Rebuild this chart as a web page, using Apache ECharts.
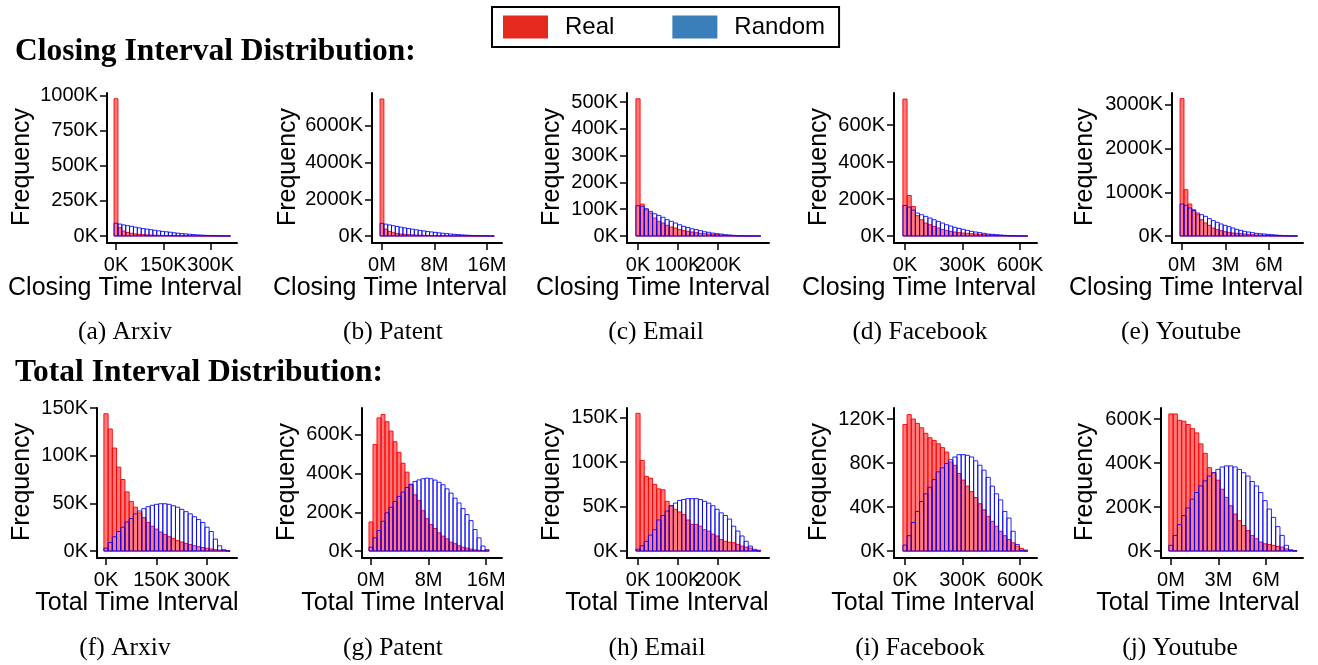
<!DOCTYPE html>
<html><head><meta charset="utf-8">
<script src="https://cdn.jsdelivr.net/npm/echarts@6/dist/echarts.min.js"></script>
<style>html,body{margin:0;padding:0;background:#fff}#c{width:1318px;height:665px}</style>
</head><body><div id="c"></div>
<script>
// ---------- DATA (counts in thousands; x in K or M units) ----------
const seriesNames = ['Real', 'Random'];
const datasetNames = ['Arxiv', 'Patent', 'Email', 'Facebook', 'Youtube'];
const captionLetters = ['a', 'b', 'c', 'd', 'e', 'f', 'g', 'h', 'i', 'j'];
const sectionTitles = ['Closing Interval Distribution:', 'Total Interval Distribution:'];
const xAxisTitles = ['Closing Time Interval', 'Total Time Interval'];
const yAxisTitle = 'Frequency';

// bin widths per panel (a..j)
const binWidths = [12.3, 0.58, 10.4, 21.7, 0.27, 12.5, 0.556, 10.4, 21.7, 0.27];
const xUnits = ['K', 'M', 'K', 'K', 'M', 'K', 'M', 'K', 'K', 'M'];

// (a) Arxiv closing
const arxivClosingReal = [980, 60, 35, 25, 19, 15, 12, 10, 8, 7, 6, 5, 4, 3.5, 3, 2.5, 2, 1.7, 1.4, 1.2, 1, 0.8, 0.6, 0.5, 0.4, 0.3, 0.2, 0.2, 0.1, 0.1];
const arxivClosingRandom = [91, 85, 79, 74, 69, 63, 58, 53, 49, 45, 41, 37, 33, 30, 27, 23, 20, 17.5, 15, 12.5, 10, 8, 6.5, 5, 4, 3, 2, 1, 0.5, 0.2];
// (b) Patent closing
const patentClosingReal = [7466, 380, 250, 180, 140, 110, 90, 75, 62, 52, 44, 37, 31, 26, 22, 18, 15, 12, 10, 8, 6, 5, 4, 3, 2, 2, 1, 1, 1, 0.5];
const patentClosingRandom = [692, 647, 603, 561, 520, 481, 443, 406, 372, 339, 307, 278, 249, 223, 198, 173, 151, 130, 111, 93, 77, 62, 49, 38, 28, 19, 12, 7, 3, 1];
// (c) Email closing
const emailClosingReal = [512, 119, 98, 86, 67, 55, 48.5, 40, 33.6, 30, 24, 20, 17.4, 15, 12.4, 10, 8.7, 7.5, 6.2, 5, 3.7, 2.5, 2.5, 1.2, 0.8, 0.5, 0.4, 0.3, 0.2, 0.1];
const emailClosingRandom = [113, 111, 102, 92, 83, 77, 70, 61, 55, 48.5, 42, 36, 32, 27, 24, 20, 16, 14, 11, 8.7, 7.5, 5, 3.7, 2.5, 1.2, 1, 0.5, 0.3, 0.2, 0.1];
// (d) Facebook closing
const facebookClosingReal = [740, 219, 160, 110, 88, 70, 61, 52, 43, 36, 30.5, 25, 21.6, 18, 16, 14.4, 12.6, 10.8, 9, 7.2, 5.4, 5, 3.6, 3, 2, 1.5, 1, 0.7, 0.4, 0.2];
const facebookClosingRandom = [165, 156, 140, 124, 115, 106, 97, 88, 79, 70, 61, 54, 47, 41, 36, 30.5, 25, 21.6, 18, 14.4, 10.8, 9, 7.2, 5.4, 3.6, 1.8, 1, 0.6, 0.3, 0.1];
// (e) Youtube closing
const youtubeClosingReal = [3143, 1060, 732, 603, 488, 374, 298, 244, 183, 145, 122, 99, 84, 69, 61, 53, 46, 38, 30, 23, 20, 15, 12, 8, 6, 4, 3, 2, 1, 0.5];
const youtubeClosingRandom = [732, 702, 641, 580, 526, 488, 450, 397, 351, 313, 275, 244, 214, 183, 153, 130, 107, 92, 76, 61, 53, 46, 38, 30, 23, 15, 8, 3, 1, 0.5];
// (f) Arxiv total
const arxivTotalReal = [144, 128, 108, 88, 75, 62, 52, 46, 40, 35, 30, 26, 23, 20, 17.5, 15, 13, 11, 9.5, 8, 6.8, 5.6, 4.6, 3.7, 2.9, 2.2, 1.5, 1, 0.5, 0.2];
const arxivTotalRandom = [3, 9, 15, 20.5, 25, 30.5, 34, 39, 42, 44.4, 46.5, 48, 49, 49.6, 49.6, 49, 47.5, 46, 43.7, 41.3, 39, 36, 33, 30, 25, 20.5, 12.5, 5.5, 1.4, 0];
// (g) Patent total
const patentTotalReal = [150, 550, 687, 704, 667, 619, 564, 509, 453, 407, 342, 290, 260, 208, 167, 137, 116, 94, 77, 63, 46, 38, 27, 20, 15, 10, 6, 4, 2, 1];
const patentTotalRandom = [20, 68, 106, 154, 197, 226, 256, 282, 304, 328, 345, 359, 367, 373, 376, 373, 366, 355, 342, 321, 299, 273, 248, 219, 188, 157, 111, 68, 26, 7];
// (h) Email total
const emailTotalReal = [155, 102, 84, 82, 75, 70, 69, 56, 51, 47, 44, 41, 35, 30, 30, 28, 24, 22.5, 19, 17, 13, 11, 10, 9.4, 7.5, 5.6, 4.5, 3.4, 2, 1];
const emailTotalRandom = [2, 6, 11, 18, 24, 35, 40, 45, 51, 54, 57, 58, 59, 59, 59, 58, 56, 54, 51, 47, 43, 40, 36, 28, 22.5, 17, 11, 5.6, 1, 0];
// (i) Facebook total
const facebookTotalReal = [115, 124, 120, 116, 112, 107, 103, 100.5, 97.5, 94, 90, 81, 78, 70.5, 64.5, 59, 54, 48.6, 43, 37.5, 31.5, 27, 22.5, 18, 14, 10.5, 7.5, 4.5, 2.4, 1];
const facebookTotalRandom = [5.4, 14, 26, 36, 45, 52, 58, 65, 72, 75.6, 79.5, 83, 85.5, 87.6, 87.6, 87, 85.5, 82, 78, 73.5, 67, 59, 52, 46.5, 36, 30, 18, 6, 0.6, 0];
// (j) Youtube total
const youtubeTotalReal = [623, 623, 594, 590, 575, 556, 537, 487, 444, 379, 356, 322, 281, 244, 206, 168, 138, 116, 93, 71, 56, 41, 33, 30, 26, 21, 18, 10, 6, 2];
const youtubeTotalRandom = [26, 71, 120, 161, 196, 236, 266, 296, 319, 341, 356, 371, 382, 387, 387, 382, 371, 356, 341, 316, 296, 266, 229, 191, 153, 111, 71, 26, 3, 0];

// tick labels
const yTicks = [
  [0, 250, 500, 750, 1000], [0, 2000, 4000, 6000], [0, 100, 200, 300, 400, 500], [0, 200, 400, 600], [0, 1000, 2000, 3000],
  [0, 50, 100, 150], [0, 200, 400, 600], [0, 50, 100, 150], [0, 40, 80, 120], [0, 200, 400, 600]
];
const xTicks = [
  [0, 150, 300], [0, 8, 16], [0, 100, 200], [0, 300, 600], [0, 3, 6],
  [0, 150, 300], [0, 8, 16], [0, 100, 200], [0, 300, 600], [0, 3, 6]
];
const realSeries = [arxivClosingReal, patentClosingReal, emailClosingReal, facebookClosingReal, youtubeClosingReal,
  arxivTotalReal, patentTotalReal, emailTotalReal, facebookTotalReal, youtubeTotalReal];
const randomSeries = [arxivClosingRandom, patentClosingRandom, emailClosingRandom, facebookClosingRandom, youtubeClosingRandom,
  arxivTotalRandom, patentTotalRandom, emailTotalRandom, facebookTotalRandom, youtubeTotalRandom];

// ---------- LAYOUT ----------
const yRanges = [[-50, 1021], [-381, 7793], [-26, 533.6], [-37.8, 773], [-160, 3272],
  [-7.3, 150], [-35.9, 738], [-7.8, 161], [-6.3, 130], [-31.6, 650]];
const xRanges = [[-28.5, 383.6], [-1.52, 18.29], [-27.5, 327.5], [-57.4, 688.7], [-0.69, 8.34],
  [-26.7, 389], [-1.25, 18.2], [-27.5, 327.5], [-57.4, 688.7], [-0.63, 8.34]];
const gridLeft = [107, 372, 627, 894, 1172, 97, 362, 627, 894, 1161];
const gridRight = [237, 502, 769, 1037, 1303, 237, 502, 769, 1037, 1303];
const rowTop = [93, 408];
const plotH = 150;
const freqX = [22, 288, 552, 819, 1085, 22, 287, 552, 819, 1085];
const freqY = [167, 482];
const titleX = [125, 390, 653, 919, 1186, 137, 403, 667, 933, 1198];
const titleY = [288, 603];
const capX = [125, 393, 656, 920, 1181, 125, 393, 657, 920, 1180];
const capY = [332, 648];
const secY = [52, 373];
// panels whose crowded middle x label is drawn on a second, label-only axis (so it is not auto-hidden)
const crowdedPanels = [2, 7];

const SANS = '"Liberation Sans", Arial, Helvetica, sans-serif';
const SERIF = '"Liberation Serif", "Times New Roman", serif';

function makeRender(fill, stroke) {
  return function (params, api) {
    const x0 = api.value(0), x1 = api.value(1), y = api.value(2);
    const a = api.coord([x0, y]);
    const b = api.coord([x1, 0]);
    return {
      type: 'rect',
      shape: { x: a[0], y: a[1], width: b[0] - a[0], height: b[1] - a[1] },
      style: { fill: fill, stroke: stroke, lineWidth: 1 }
    };
  };
}

function xLabelStyle(unit, values) {
  return { show: true, customValues: values, formatter: v => v + unit, color: '#000', fontFamily: SANS, fontSize: 20, margin: 12,
    hideOverlap: false, showMinLabel: true, showMaxLabel: true };
}

const grids = [], xAxes = [], yAxes = [], series = [], graphics = [];
for (let p = 0; p < 10; p++) {
  const row = p < 5 ? 0 : 1;
  grids.push({ left: gridLeft[p], width: gridRight[p] - gridLeft[p], top: rowTop[row], height: plotH, outerBoundsMode: 'none', containLabel: false });
  const unit = xUnits[p];
  const crowded = crowdedPanels.indexOf(p) >= 0;
  const ticks = xTicks[p];
  const mainLabels = crowded ? ticks.filter((v, i) => i !== 1) : ticks;
  xAxes.push({
    type: 'value', gridIndex: p, min: xRanges[p][0], max: xRanges[p][1], position: 'bottom',
    axisLine: { show: true, onZero: false, lineStyle: { color: '#000', width: 2 } },
    axisTick: { show: true, customValues: ticks, length: 7, lineStyle: { color: '#000', width: 1.5 } },
    axisLabel: xLabelStyle(unit, mainLabels),
    splitLine: { show: false }
  });
  yAxes.push({
    type: 'value', gridIndex: p, min: yRanges[p][0], max: yRanges[p][1],
    axisLine: { show: true, onZero: false, lineStyle: { color: '#000', width: 2 } },
    axisTick: { show: true, customValues: yTicks[p], length: 7, lineStyle: { color: '#000', width: 1.5 } },
    axisLabel: { show: true, customValues: yTicks[p], formatter: v => v + 'K', color: '#000', fontFamily: SANS, fontSize: 20, margin: 9,
      hideOverlap: false, showMinLabel: true, showMaxLabel: true },
    splitLine: { show: false }
  });
  const bw = binWidths[p];
  const toBins = arr => arr.map((v, i) => [(i - 0.5) * bw, (i + 0.5) * bw, v]);
  series.push({
    name: seriesNames[0], type: 'custom', xAxisIndex: p, yAxisIndex: p,
    renderItem: makeRender('rgba(255,0,0,0.52)', 'rgba(255,0,0,0.92)'),
    itemStyle: { color: '#e6291d' },
    encode: { x: [0, 1], y: 2 }, data: toBins(realSeries[p]), silent: true, animation: false
  });
  series.push({
    name: seriesNames[1], type: 'custom', xAxisIndex: p, yAxisIndex: p,
    renderItem: makeRender('rgba(255,255,255,0)', 'rgba(0,0,255,0.85)'),
    itemStyle: { color: '#3a7eba' },
    encode: { x: [0, 1], y: 2 }, data: toBins(randomSeries[p]), silent: true, animation: false
  });
  graphics.push({
    type: 'text', x: freqX[p], y: freqY[row], rotation: Math.PI / 2,
    style: { text: yAxisTitle, font: '25px ' + SANS, fill: '#000', textAlign: 'center', textVerticalAlign: 'middle' }
  });
  graphics.push({
    type: 'text', x: titleX[p], y: titleY[row],
    style: { text: xAxisTitles[row], font: '25px ' + SANS, fill: '#000', textAlign: 'center', textVerticalAlign: 'middle' }
  });
  graphics.push({
    type: 'text', x: capX[p], y: capY[row],
    style: { text: '(' + captionLetters[p] + ') ' + datasetNames[p % 5], font: '25.5px ' + SERIF, fill: '#000', textAlign: 'center', textVerticalAlign: 'middle' }
  });
}
// label-only companion axes for crowded panels
crowdedPanels.forEach(p => {
  xAxes.push({
    type: 'value', gridIndex: p, min: xRanges[p][0], max: xRanges[p][1], position: 'bottom', offset: 0,
    axisLine: { show: false }, axisTick: { show: false }, splitLine: { show: false },
    axisLabel: xLabelStyle(xUnits[p], [xTicks[p][1]])
  });
});
for (let r = 0; r < 2; r++) {
  graphics.push({
    type: 'text', x: 15, y: secY[r],
    style: { text: sectionTitles[r], font: 'bold 31.5px ' + SERIF, fill: '#000', textAlign: 'left', textVerticalAlign: 'middle' }
  });
}

const chart = echarts.init(document.getElementById('c'), null, { renderer: 'canvas' });
chart.setOption({
  animation: false,
  backgroundColor: '#fff',
  grid: grids,
  xAxis: xAxes,
  yAxis: yAxes,
  series: series,
  graphic: graphics,
  legend: {
    left: 492, top: 7, orient: 'horizontal',
    padding: [8, 14, 8, 11],
    borderColor: '#000', borderWidth: 2,
    itemWidth: 45, itemHeight: 23, itemGap: 58, icon: 'rect',
    selectedMode: false,
    textStyle: { fontFamily: SANS, fontSize: 24, color: '#000', padding: [0, 0, 0, 12], lineHeight: 23 },
    data: [
      { name: 'Real', itemStyle: { color: '#e6291d', borderWidth: 0 } },
      { name: 'Random', itemStyle: { color: '#3a7eba', borderWidth: 0 } }
    ]
  }
});
</script></body></html>
